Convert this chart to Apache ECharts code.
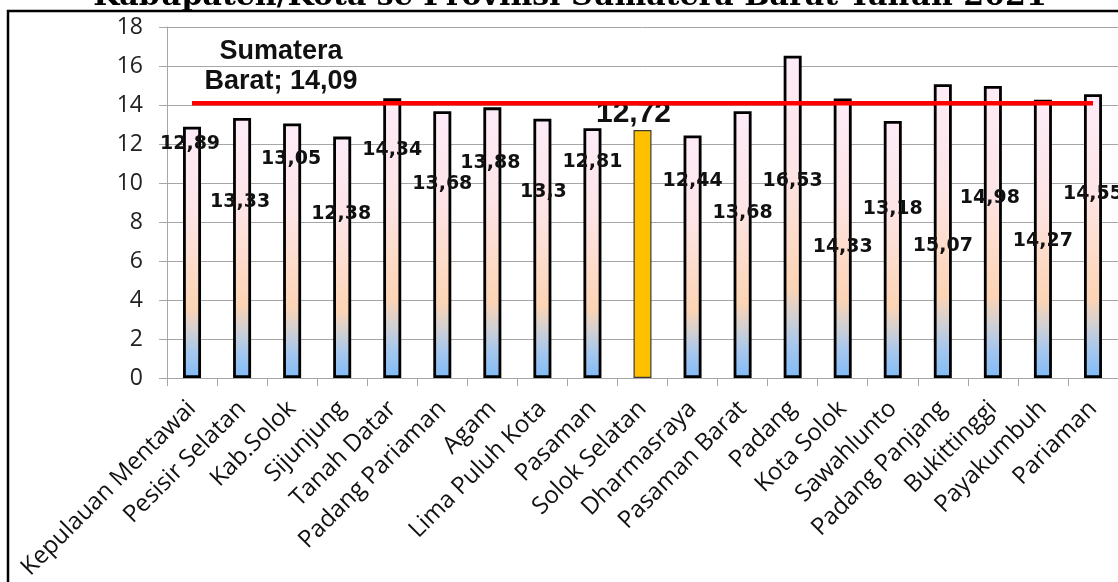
<!DOCTYPE html>
<html>
<head>
<meta charset="utf-8">
<script src="https://cdn.jsdelivr.net/npm/echarts@6/dist/echarts.min.js"></script>
<style>
  html, body { margin: 0; padding: 0; background: #ffffff; }
  #chart { width: 1118px; height: 582px; }
</style>
</head>
<body>
<div id="chart"></div>
<script>
// Regencies / cities of West Sumatra
const regions = [
  'Kepulauan Mentawai', 'Pesisir Selatan', 'Kab.Solok', 'Sijunjung', 'Tanah Datar',
  'Padang Pariaman', 'Agam', 'Lima Puluh Kota', 'Pasaman', 'Solok Selatan',
  'Dharmasraya', 'Pasaman Barat', 'Padang', 'Kota Solok', 'Sawahlunto',
  'Padang Panjang', 'Bukittinggi', 'Payakumbuh', 'Pariaman'
];
const values = [
  12.89, 13.33, 13.05, 12.38, 14.34,
  13.68, 13.88, 13.3, 12.81, 12.72,
  12.44, 13.68, 16.53, 14.33, 13.18,
  15.07, 14.98, 14.27, 14.55
];
const provinceName = 'Sumatera Barat';
const provinceValue = 14.09;
const highlighted = 'Solok Selatan';
const titleText = 'Kabupaten/Kota se Provinsi Sumatera Barat Tahun 2021';
const yMin = 0, yMax = 18, yStep = 2;

// where each value label sits, measured from the top centre of its bar (px)
const labelShift = [
  [-2, 17], [-2, 84], [-1, 36], [-1, 77], [0, 52],
  [0, 73], [-2, 56], [1, 73], [0, 34], [-9, -16],
  [0, 46], [0, 102], [0, 125], [0, 148], [0, 88],
  [0, 162], [-3, 112], [0, 141], [0, 100]
];

const fmt = v => String(v).replace('.', ',');

const barFill = new echarts.graphic.LinearGradient(0, 0, 0, 1, [
  { offset: 0.00, color: '#fdecf8' },
  { offset: 0.35, color: '#fde4e6' },
  { offset: 0.55, color: '#fddccb' },
  { offset: 0.72, color: '#fcd4b5' },
  { offset: 0.81, color: '#d3d0d2' },
  { offset: 0.90, color: '#a6c7ee' },
  { offset: 1.00, color: '#80bbf7' }
]);

const barData = values.map((v, i) => {
  const item = {
    value: v,
    label: { offset: labelShift[i] }
  };
  if (regions[i] === highlighted) {
    item.itemStyle = { color: '#ffc000', borderColor: '#3a3a3a', borderWidth: 1.2 };
    item.label.fontFamily = 'Liberation Sans';
    item.label.fontSize = 30;
  }
  return item;
});

const lineData = regions.map((r, i) => i === 0
  ? { value: provinceValue, label: { show: true } }
  : provinceValue);

const chart = echarts.init(document.getElementById('chart'), null, { renderer: 'canvas' });

chart.setOption({
  animation: false,
  backgroundColor: '#ffffff',
  graphic: [
    {
      type: 'rect',
      shape: { x: 8, y: 11, width: 1200, height: 700 },
      style: { fill: 'none', stroke: '#000000', lineWidth: 2.5 },
      silent: true
    },
    {
      type: 'text',
      x: 570, y: -3,
      style: {
        text: titleText,
        font: 'bold 30px "DejaVu Serif"',
        fill: '#000000',
        align: 'center',
        verticalAlign: 'middle'
      },
      silent: true
    }
  ],
  grid: { left: 167, right: 0, top: 27, bottom: 204, containLabel: false, outerBoundsMode: 'none' },
  xAxis: {
    type: 'category',
    data: regions,
    boundaryGap: true,
    axisLine: { show: true, lineStyle: { color: '#a6a6a6', width: 1 } },
    axisTick: { show: true, interval: 0, length: 8, lineStyle: { color: '#a6a6a6' } },
    axisLabel: {
      interval: 0, rotate: 45, margin: 27,
      fontFamily: 'Open Sans', fontSize: 24, color: '#111111'
    },
    splitLine: { show: false }
  },
  yAxis: {
    type: 'value',
    min: yMin, max: yMax, interval: yStep,
    axisLine: { show: true, lineStyle: { color: '#a6a6a6', width: 1 } },
    axisTick: { show: true, length: 8, lineStyle: { color: '#a6a6a6' } },
    splitLine: { show: true, lineStyle: { color: '#a6a6a6', width: 1 } },
    axisLabel: { margin: 24, fontFamily: 'Open Sans', fontSize: 23, color: '#222222' }
  },
  series: [
    {
      type: 'bar',
      data: barData,
      barWidth: 18,
      itemStyle: { color: barFill, borderColor: '#000000', borderWidth: 2.8 },
      label: {
        show: true,
        position: ['50%', 0],
        align: 'center',
        verticalAlign: 'middle',
        fontFamily: 'DejaVu Sans',
        fontWeight: 'bold',
        fontSize: 19,
        color: '#111111',
        formatter: p => fmt(p.value)
      }
    },
    {
      type: 'line',
      name: provinceName,
      data: lineData,
      symbol: 'circle',
      symbolSize: 1,
      showSymbol: true,
      itemStyle: { color: 'rgba(255,0,0,0)' },
      lineStyle: { color: '#ff0000', width: 4.5 },
      label: {
        show: false,
        position: 'inside',
        align: 'center',
        verticalAlign: 'middle',
        offset: [89, -37],
        fontFamily: 'Liberation Sans',
        fontWeight: 'bold',
        fontSize: 27,
        lineHeight: 30,
        color: '#111111',
        formatter: p => provinceName.replace(' ', '\n') + '; ' + fmt(p.value)
      },
      z: 3
    }
  ]
});
</script>
</body>
</html>
